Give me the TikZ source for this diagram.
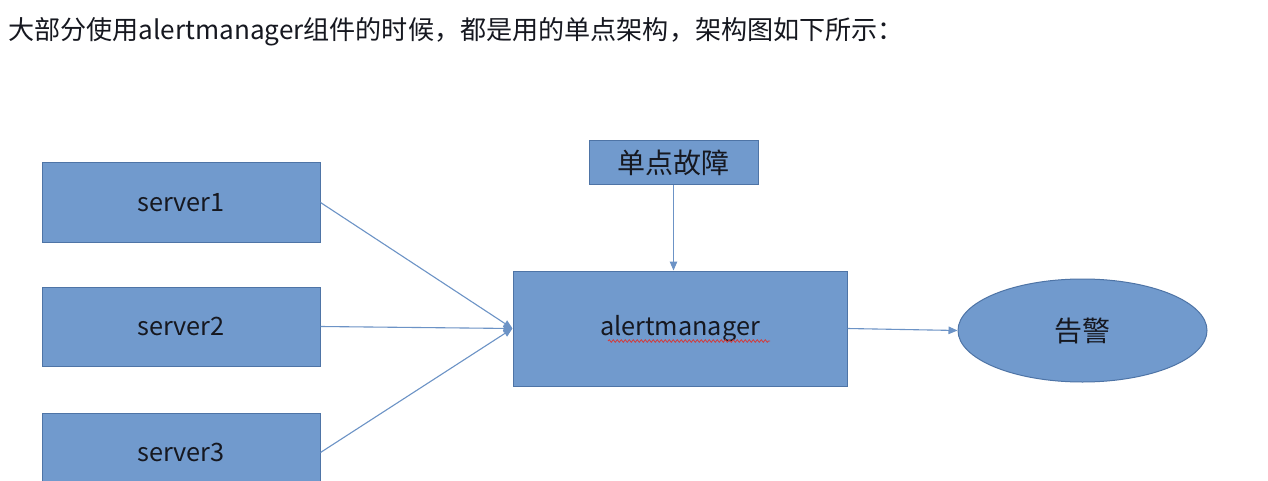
\documentclass[tikz,border=0pt]{standalone}
\usepackage{fontspec}
\setmainfont{Noto Sans CJK SC}
\usetikzlibrary{arrows.meta,shapes.geometric,decorations.pathmorphing}
\definecolor{boxfill}{RGB}{113,154,205}
\definecolor{boxline}{RGB}{78,116,166}
\definecolor{arrowc}{RGB}{108,147,198}
\definecolor{txt}{RGB}{22,24,32}
\definecolor{squig}{RGB}{210,60,60}
\begin{document}
\begin{tikzpicture}[x=1pt,y=-1pt,
  box/.style={draw=boxline, fill=boxfill, line width=1pt, inner sep=0pt, text=txt,
              font=\fontsize{25.3}{30}\selectfont},
  cjkbox/.style={box, font=\fontsize{28}{32}\selectfont},
  conn/.style={draw=arrowc, line width=1.1pt, -{Triangle[length=9pt,width=7.5pt]}}]
\useasboundingbox (0,0) rectangle (1268,481);
\fill[white] (0,0) rectangle (1268,481);
\node[anchor=base west, inner sep=0pt, text=txt, font=\fontsize{26.1}{30}\selectfont] (title) at (8,39.5)
  {大部分使用alertmanager组件的时候，都是用的单点架构，架构图如下所示：};
\node[box, minimum width=278pt, minimum height=79pt] (s1) at (181,202.5) {server1};
\node[box, minimum width=278pt, minimum height=79pt] (s2) at (181,326.5) {server2};
\node[box, minimum width=278pt, minimum height=79pt] (s3) at (181,452.5) {server3};
\node[cjkbox, minimum width=169pt, minimum height=44pt] (fault) at (673.5,163) {单点故障};
\node[box, minimum width=334pt, minimum height=115pt] (am) at (680,328.5) {alertmanager};
\node[cjkbox, ellipse, minimum width=249pt, minimum height=103pt] (alarm) at (1082.5,330.5) {告警};
\draw[squig, line width=0.8pt, decorate, decoration={snake, amplitude=1.3pt, segment length=4pt}]
  (608,341) -- (770,341);
\draw[conn] (s1.east) -- (am.west);
\draw[conn] (s2.east) -- (am.west);
\draw[conn] (s3.east) -- (am.west);
\draw[conn] (fault.south) -- (fault.south |- am.north);
\draw[conn] (am.east) -- (alarm.west);
\end{tikzpicture}
\end{document}
